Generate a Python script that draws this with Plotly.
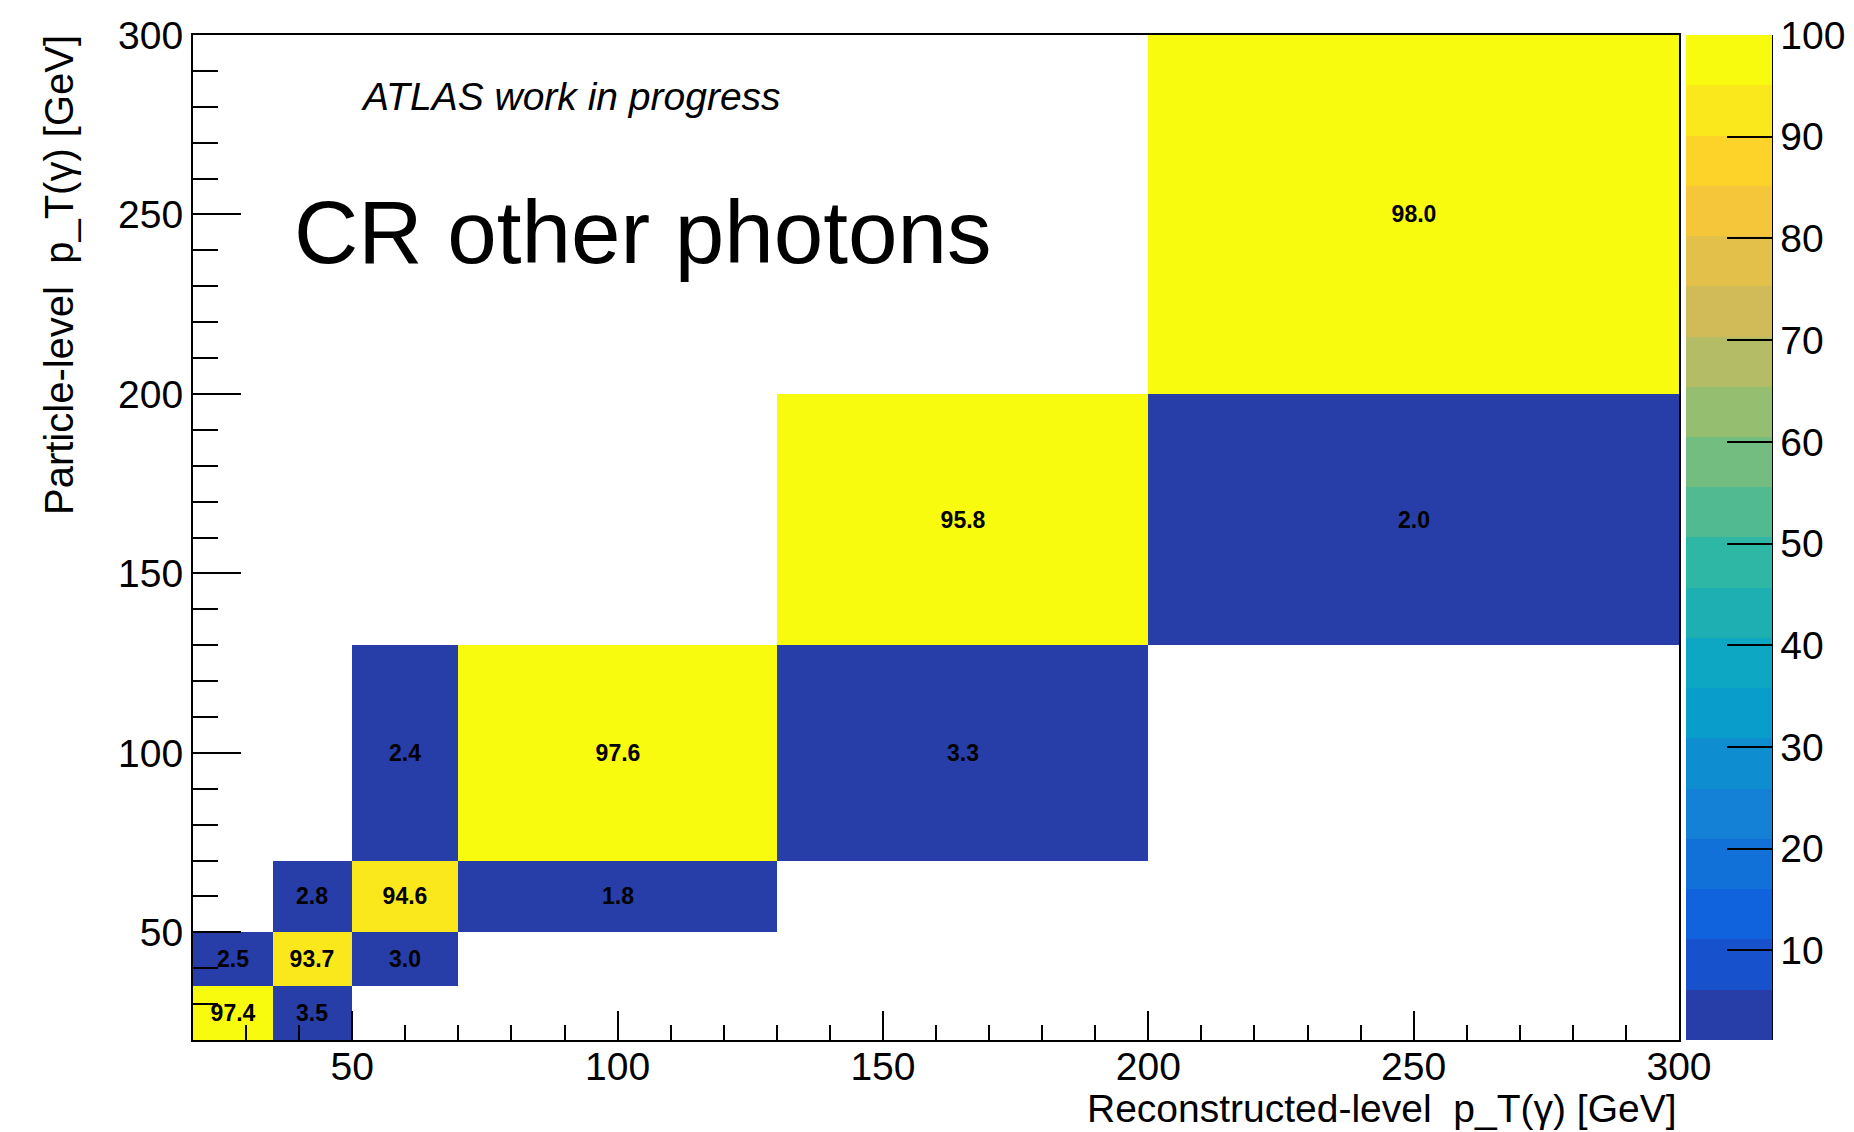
import numpy as np
import plotly.graph_objects as go

# ---------------- data ----------------
x_edges = [20, 35, 50, 70, 130, 200, 300]
y_edges = [20, 35, 50, 70, 130, 200, 300]
row_20_35 = [97.4, 3.5, None, None, None, None]
row_35_50 = [2.5, 93.7, 3.0, None, None, None]
row_50_70 = [None, 2.8, 94.6, 1.8, None, None]
row_70_130 = [None, None, 2.4, 97.6, 3.3, None]
row_130_200 = [None, None, None, None, 95.8, 2.0]
row_200_300 = [None, None, None, None, None, 98.0]
z = [row_20_35, row_35_50, row_50_70, row_70_130, row_130_200, row_200_300]
z_min, z_max = 1.2, 100
cb_ticks = [10, 20, 30, 40, 50, 60, 70, 80, 90, 100]
axis_ticks = [50, 100, 150, 200, 250, 300]

# ---------------- style: ROOT kBird palette, 20 contour levels ----------------
stops = [0.0, 0.125, 0.25, 0.375, 0.5, 0.625, 0.75, 0.875, 1.0]
red = [0.2082, 0.0592, 0.0780, 0.0232, 0.1802, 0.5301, 0.8186, 0.9956, 0.9764]
green = [0.1664, 0.3599, 0.5041, 0.6419, 0.7178, 0.7492, 0.7328, 0.7862, 0.9832]
blue = [0.5293, 0.8684, 0.8385, 0.7914, 0.6425, 0.4662, 0.3499, 0.1968, 0.0539]
n_levels = 20
colorscale = []
for i in range(n_levels):
    idx = int((i + 0.99) * 255 / n_levels)
    pos = idx / 254
    r = int(round(np.interp(pos, stops, red) * 255))
    g = int(round(np.interp(pos, stops, green) * 255))
    b = int(round(np.interp(pos, stops, blue) * 255))
    c = f"rgb({r},{g},{b})"
    colorscale.append([i / n_levels, c])
    colorscale.append([(i + 1) / n_levels, c])

text = [["" if v is None else f"{v:.1f}" for v in row] for row in z]

FONT = "Liberation Sans, Arial, Helvetica, sans-serif"
TICK_SIZE = 39

fig = go.Figure()
fig.add_trace(go.Heatmap(
    x=x_edges, y=y_edges, z=z,
    zmin=z_min, zmax=z_max,
    colorscale=colorscale,
    text=text, texttemplate="%{text}",
    textfont=dict(family=FONT, size=23, color="black", weight="bold"),
    hoverongaps=False,
    colorbar=dict(
        x=1.0047, xanchor="left", xpad=0,
        y=1, yanchor="top", ypad=0,
        len=1, lenmode="fraction",
        thickness=86, thicknessmode="pixels",
        outlinewidth=0,
        tickvals=cb_ticks,
        ticks="inside", ticklen=45, tickwidth=2, tickcolor="black",
        tickfont=dict(family=FONT, size=TICK_SIZE, color="black"),
    ),
))

axis_common = dict(
    range=[20, 300], showgrid=False, zeroline=False,
    showline=True, linecolor="black", linewidth=2, mirror=True,
    tickvals=axis_ticks, ticks="inside", tickcolor="black", tickwidth=2,
    tickfont=dict(family=FONT, size=TICK_SIZE, color="black"),
)
fig.update_xaxes(**axis_common, ticklen=29, ticklabelstandoff=-9,
                 minor=dict(dtick=10, tick0=0, ticks="inside", ticklen=15,
                            tickcolor="black", tickwidth=2))
fig.update_yaxes(**axis_common, ticklen=48,
                 minor=dict(dtick=10, tick0=0, ticks="inside", ticklen=25,
                            tickcolor="black", tickwidth=2))

# right border line of the palette axis
fig.add_shape(type="line", xref="paper", yref="paper",
              x0=(1772 - 193) / 1486, x1=(1772 - 193) / 1486, y0=0, y1=1,
              line=dict(color="black", width=2))

fig.add_annotation(text="Reconstructed-level  p_T(γ) [GeV]", xref="paper", yref="paper",
                   x=1, y=0, xanchor="right", yanchor="middle", yshift=-68,
                   showarrow=False, font=dict(family=FONT, size=39, color="black"))
fig.add_annotation(text="Particle-level  p_T(γ) [GeV]", xref="paper", yref="paper",
                   x=0, y=1, xanchor="center", yanchor="top", xshift=-134, yshift=2,
                   textangle=-90, showarrow=False,
                   font=dict(family=FONT, size=40, color="black"))
fig.add_annotation(text="<i>ATLAS work in progress</i>", xref="paper", yref="paper",
                   x=0.1115, y=0.939, xanchor="left", yanchor="middle",
                   showarrow=False, font=dict(family=FONT, size=39, color="black"))
fig.add_annotation(text="CR other photons", xref="paper", yref="paper",
                   x=0.3028, y=0.804, xanchor="center", yanchor="middle",
                   showarrow=False, font=dict(family=FONT, size=89, color="black"))

fig.update_layout(
    width=1854, height=1132,
    margin=dict(l=193, r=175, t=35, b=92, pad=0, autoexpand=False),
    paper_bgcolor="white", plot_bgcolor="white",
    font=dict(family=FONT, color="black"),
    showlegend=False,
)

fig.write_html("out.html")
